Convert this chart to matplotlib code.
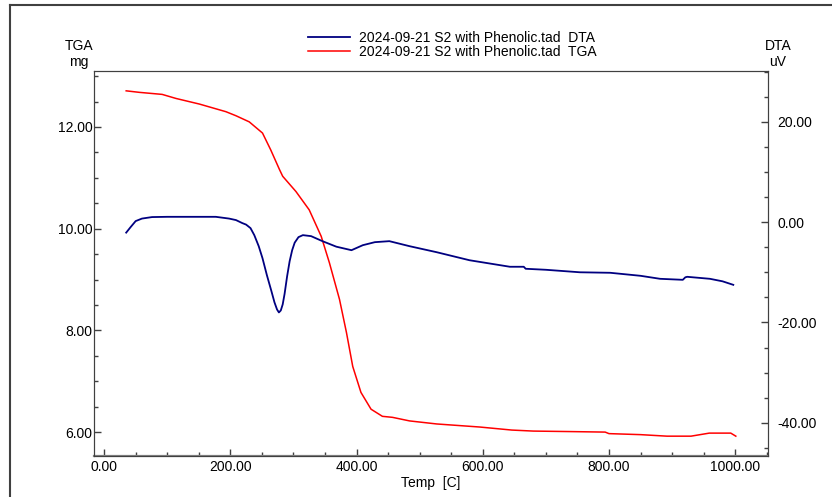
import matplotlib
matplotlib.use('Agg')
import matplotlib.pyplot as plt
from matplotlib.lines import Line2D
from matplotlib.ticker import MultipleLocator, FormatStrFormatter

plt.rcParams['font.family'] = ['Liberation Sans', 'DejaVu Sans']

# TGA curve (red), temperature in C, mass in mg
tga_temp = [35, 56, 92, 114, 151, 193, 209, 230, 251, 264, 278, 283, 304, 325, 344,
            357, 373, 384, 394, 407, 423, 441, 457, 484, 527, 595, 646, 680, 740,
            794, 800, 850, 892, 930, 959, 993, 1001]
tga_mg = [12.71, 12.68, 12.64, 12.56, 12.45, 12.30, 12.22, 12.10, 11.88, 11.55,
          11.16, 11.03, 10.73, 10.37, 9.85, 9.33, 8.61, 7.96, 7.29, 6.78, 6.45, 6.31,
          6.29, 6.22, 6.16, 6.10, 6.04, 6.02, 6.01, 6.00, 5.97, 5.95, 5.92, 5.92,
          5.98, 5.98, 5.92]

# DTA curve (blue), uV
dta_temp = [35, 42, 50, 60, 76, 100, 151, 177, 198, 209, 219, 225, 232, 238, 245,
            251, 258, 265, 270, 274, 277, 280, 283, 286, 290, 294, 298, 302, 308,
            315, 328, 346, 368, 392, 410, 429, 452, 484, 527, 579, 643, 665, 668,
            700, 754, 802, 850, 881, 917, 921, 924, 960, 980, 997]
dta_uv = [-2.1, -1.0, 0.2, 0.7, 1.0, 1.05, 1.05, 1.05, 0.7, 0.4, -0.2, -0.5, -1.2,
          -2.6, -4.8, -7.2, -10.6, -13.7, -16.0, -17.4, -18.0, -17.6, -16.4, -14.3,
          -10.8, -7.8, -5.6, -4.1, -3.0, -2.6, -2.8, -3.8, -4.9, -5.6, -4.6, -4.0,
          -3.8, -4.8, -6.0, -7.6, -8.9, -8.9, -9.3, -9.5, -10.0, -10.1, -10.7,
          -11.3, -11.5, -11.0, -10.9, -11.3, -11.8, -12.5]

label_dta = '2024-09-21 S2 with Phenolic.tad  DTA'
label_tga = '2024-09-21 S2 with Phenolic.tad  TGA'

W, H = 832, 497
fig = plt.figure(figsize=(W / 100, H / 100), dpi=100)
ax = fig.add_axes([94 / W, 1 - 456 / H, (768 - 94) / W, (456 - 71) / H])
ax2 = ax.twinx()

spine_col = '#404040'
tga_line, = ax.plot(tga_temp, tga_mg, color='#ff0000', lw=1.1)
dta_line, = ax2.plot(dta_temp, dta_uv, color='#000080', lw=1.3)

ax.set_xlim(-16, 1052)
ax.set_ylim(5.53, 13.1)
ax2.set_ylim(-46.6, 30.1)

ax.xaxis.set_major_locator(MultipleLocator(200))
ax.xaxis.set_minor_locator(MultipleLocator(50))
ax.yaxis.set_major_locator(MultipleLocator(2))
ax.yaxis.set_minor_locator(MultipleLocator(0.5))
ax2.yaxis.set_major_locator(MultipleLocator(20))
ax2.yaxis.set_minor_locator(MultipleLocator(5))
for a in (ax.xaxis, ax.yaxis, ax2.yaxis):
    a.set_major_formatter(FormatStrFormatter('%.2f'))

fs = 10
for a in (ax, ax2):
    a.tick_params(which='major', direction='in', length=5, width=1, color=spine_col,
                  labelsize=fs, pad=2)
    a.tick_params(which='minor', direction='in', length=3, width=1, color=spine_col)
    for s in a.spines.values():
        s.set_color(spine_col)
ax.spines['bottom'].set_color('#808080')
ax.spines['bottom'].set_linewidth(1.6)
ax.tick_params(axis='y', which='both', left=True, right=False, pad=1)
ax2.tick_params(axis='y', which='both', right=True, left=False, pad=7)
ax.tick_params(axis='x', pad=3)

ax.set_xlabel('Temp  [C]', fontsize=fs, labelpad=1)

ax.text(-0.022, 1.005, 'TGA\nmg', transform=ax.transAxes, ha='center', va='bottom',
        fontsize=fs, linespacing=1.15)
ax2.text(1.015, 1.005, 'DTA\nuV', transform=ax2.transAxes, ha='center', va='bottom',
         fontsize=fs, linespacing=1.15)

fig.legend([dta_line, tga_line], [label_dta, label_tga], loc='upper left',
           bbox_to_anchor=(308 / W, 1 - 31 / H), frameon=False, fontsize=fs,
           handlelength=3.0, handletextpad=0.7, labelspacing=0.0, borderpad=0,
           borderaxespad=0)

# outer frame of the report page
fig.add_artist(Line2D([10 / W, 10 / W], [0, 1 - 5 / H], color=spine_col, lw=1.5,
                      transform=fig.transFigure))
fig.add_artist(Line2D([10 / W, 1], [1 - 5 / H, 1 - 5 / H], color=spine_col, lw=1.5,
                      transform=fig.transFigure))

fig.savefig('out.png', dpi=100)
